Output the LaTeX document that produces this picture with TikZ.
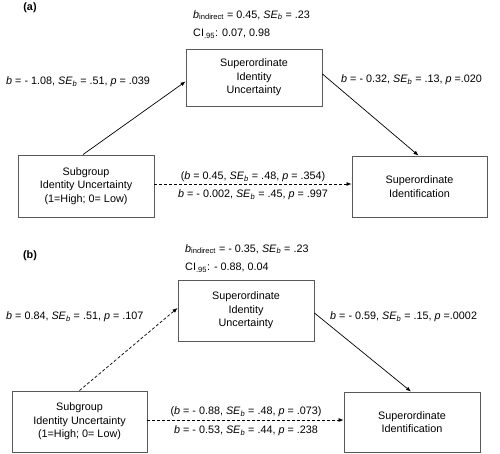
\documentclass[tikz,border=0pt]{standalone}
\usepackage{fontspec}
\setmainfont{Liberation Sans}
\usetikzlibrary{arrows.meta}
\newcommand\Bv{\textit{b}}
\newcommand\SEb{\textit{SE}\textsubscript{\textit{b}}}
\newcommand\Pv{\textit{p}}
\begin{document}
\begin{tikzpicture}[x=1pt,y=-1pt,
  font=\fontsize{10.8}{13.5}\selectfont,
  box/.style={draw=black!65, line width=0.9pt, align=center, inner sep=0pt},
  lab/.style={inner sep=0pt},
  arr/.style={-{Latex[length=5pt,width=4pt]}, line width=0.7pt},
  dsh/.style={arr, dash pattern=on 3pt off 2pt}]
\useasboundingbox (0,0) rectangle (500,453);

% ---------- panel (a)
\node[lab] (tagA) at (30,8) {\textbf{(a)}};
\node[lab, anchor=west] (indA) at (193,15) {\Bv\textsubscript{indirect} = 0.45, \SEb{} = .23};
\node[lab, anchor=west] (ciA) at (193,34) {CI\textsubscript{.95}: 0.07, 0.98};
\node[box, minimum width=136pt, minimum height=57pt] (supA) at (254,77.5) {Superordinate\\Identity\\Uncertainty};
\node[box, minimum width=136pt, minimum height=62pt] (subA) at (86,186) {Subgroup\\Identity Uncertainty\\(1=High; 0= Low)};
\node[box, minimum width=135pt, minimum height=61pt] (idA) at (419.5,186.5) {Superordinate\\Identification};
\node[lab, anchor=west] (lA) at (6,82) {\Bv{} = - 1.08, \SEb{} = .51, \Pv{} = .039};
\node[lab, anchor=west] (rA) at (341,80) {\Bv{} = - 0.32, \SEb{} = .13, \Pv{} =.020};
\node[lab] (cA1) at (253,177) {(\Bv{} = 0.45, \SEb{} = .48, \Pv{} = .354)};
\node[lab] (cA2) at (253,195) {\Bv{} = - 0.002, \SEb{} = .45, \Pv{} = .997};
\draw[arr] ([xshift=-3pt]subA.north) -- ([yshift=-4pt]supA.west);
\draw[arr] ([yshift=3.5pt]supA.east) -- ([xshift=-1pt]idA.north);
\draw[dsh] ([yshift=2pt]subA.east) -- ([yshift=2.5pt]idA.west);

% ---------- panel (b)
\node[lab] (tagB) at (30,256) {\textbf{(b)}};
\node[lab, anchor=west] (indB) at (185,249) {\Bv\textsubscript{indirect} = - 0.35, \SEb{} = .23};
\node[lab, anchor=west] (ciB) at (185,268) {CI\textsubscript{.95}: - 0.88, 0.04};
\node[box, minimum width=136pt, minimum height=61pt] (supB) at (246,310.5) {Superordinate\\Identity\\Uncertainty};
\node[box, minimum width=135pt, minimum height=61pt] (subB) at (79.5,421.5) {Subgroup\\Identity Uncertainty\\(1=High; 0= Low)};
\node[box, minimum width=136pt, minimum height=60pt] (idB) at (412,422) {Superordinate\\Identification};
\node[lab, anchor=west] (lB) at (6,317) {\Bv{} = 0.84, \SEb{} = .51, \Pv{} = .107};
\node[lab, anchor=west] (rB) at (330,317) {\Bv{} = - 0.59, \SEb{} = .15, \Pv{} =.0002};
\node[lab] (cB1) at (246,412) {(\Bv{} = - 0.88, \SEb{} = .48, \Pv{} = .073)};
\node[lab] (cB2) at (246,431) {\Bv{} = - 0.53, \SEb{} = .44, \Pv{} = .238};
\draw[dsh] (subB.north) -- ([yshift=2.5pt]supB.west);
\draw[arr] ([yshift=-2.5pt]supB.east) -- ([xshift=-1pt]idB.north);
\draw[dsh] ([yshift=1.5pt]subB.east) -- ([yshift=2pt]idB.west);
\end{tikzpicture}
\end{document}
